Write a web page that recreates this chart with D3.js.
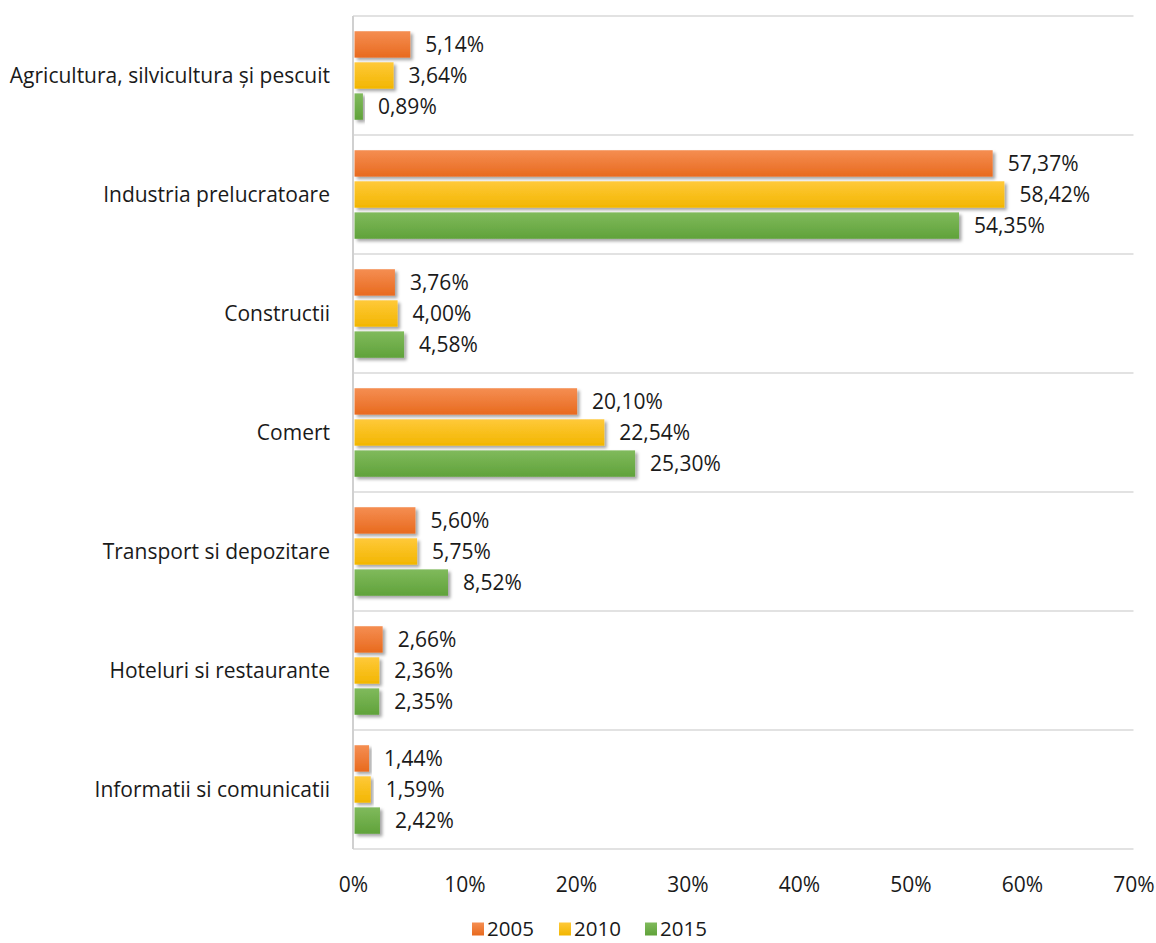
<!DOCTYPE html>
<html>
<head>
<meta charset="utf-8">
<script src="https://cdn.jsdelivr.net/npm/d3@7"></script>
<style>
  html, body { margin: 0; padding: 0; background: #fff; }
  svg text { font-family: "Open Sans", Lato, sans-serif; fill: #1a1a1a; }
</style>
</head>
<body>
<svg id="chart" width="1156" height="943"></svg>
<script>
// Sector shares of value added, by year
const categories = [
  "Agricultura, silvicultura și pescuit",
  "Industria prelucratoare",
  "Constructii",
  "Comert",
  "Transport si depozitare",
  "Hoteluri si restaurante",
  "Informatii si comunicatii"
];
const years = ["2005", "2010", "2015"];
const values2005 = [5.14, 57.37, 3.76, 20.10, 5.60, 2.66, 1.44];
const values2010 = [3.64, 58.42, 4.00, 22.54, 5.75, 2.36, 1.59];
const values2015 = [0.89, 54.35, 4.58, 25.30, 8.52, 2.35, 2.42];
const xTicks = [0, 10, 20, 30, 40, 50, 60, 70];

const seriesValues = [values2005, values2010, values2015];
const colors = {
  "2005": ["#F58E52", "#E86A1E"],
  "2010": ["#FFC93A", "#F2B600"],
  "2015": ["#80BA5C", "#60A23A"]
};

const FONT_SIZE = 21;
const svg = d3.select("#chart");
const plot = { left: 353, right: 1133.5, top: 16, bottom: 849 };

const x = d3.scaleLinear().domain([0, 70]).range([plot.left, plot.right]);
const y = d3.scaleBand().domain(categories).range([plot.top, plot.bottom]).padding(0);
const ySub = d3.scaleBand().domain(years).range([0, y.bandwidth()])
  .paddingInner(0.15).paddingOuter(0.49);

const locale = d3.formatLocale({ decimal: ",", thousands: ".", grouping: [3], currency: ["", ""] });
const fmt = locale.format(".2f");

// Gradients and bar shadow
const defs = svg.append("defs");
years.forEach(yr => {
  const g = defs.append("linearGradient").attr("id", "grad" + yr)
    .attr("x1", 0).attr("y1", 0).attr("x2", 0).attr("y2", 1);
  g.append("stop").attr("offset", "0%").attr("stop-color", colors[yr][0]);
  g.append("stop").attr("offset", "100%").attr("stop-color", colors[yr][1]);
});
const f = defs.append("filter").attr("id", "shadow")
  .attr("x", "-10%").attr("y", "-30%").attr("width", "130%").attr("height", "180%");
f.append("feDropShadow").attr("dx", 2.5).attr("dy", 2.5).attr("stdDeviation", 1.8)
  .attr("flood-color", "#000").attr("flood-opacity", 0.35);

// Horizontal gridlines at category boundaries
const bounds = categories.map(c => y(c)).concat([plot.bottom]);
svg.append("g").selectAll("line").data(bounds).join("line")
  .attr("x1", plot.left).attr("x2", plot.right)
  .attr("y1", d => d).attr("y2", d => d)
  .attr("stroke", "#d9d9d9").attr("stroke-width", 1.5);

// Vertical category axis line
svg.append("line")
  .attr("x1", plot.left).attr("x2", plot.left)
  .attr("y1", plot.top).attr("y2", plot.bottom)
  .attr("stroke", "#d0d0d0").attr("stroke-width", 2);

// Bars
const rows = [];
categories.forEach((c, i) => {
  years.forEach((yr, j) => rows.push({ cat: c, year: yr, value: seriesValues[j][i] }));
});

const barG = svg.append("g");
barG.selectAll("rect").data(rows).join("rect")
  .attr("x", x(0) + 1.5)
  .attr("y", d => y(d.cat) + ySub(d.year))
  .attr("width", d => x(d.value) - x(0) - 1.5)
  .attr("height", ySub.bandwidth())
  .attr("fill", d => `url(#grad${d.year})`)
  .attr("filter", "url(#shadow)");

// Value labels
svg.append("g").selectAll("text").data(rows).join("text")
  .attr("x", d => x(d.value) + 15)
  .attr("y", d => y(d.cat) + ySub(d.year) + ySub.bandwidth() / 2)
  .attr("dy", "0.36em")
  .attr("font-size", FONT_SIZE)
  .text(d => fmt(d.value) + "%");

// Category labels
svg.append("g").selectAll("text").data(categories).join("text")
  .attr("x", plot.left - 23)
  .attr("y", d => y(d) + y.bandwidth() / 2)
  .attr("dy", "0.36em")
  .attr("text-anchor", "end")
  .attr("font-size", FONT_SIZE)
  .text(d => d);

// X axis tick labels
const xAxis = d3.axisBottom(x).tickValues(xTicks).tickFormat(d => d + "%").tickSize(0).tickPadding(0);
const xg = svg.append("g").attr("transform", `translate(0, ${plot.bottom})`).call(xAxis);
xg.select(".domain").remove();
xg.selectAll("text")
  .attr("y", 35).attr("dy", "0.36em")
  .attr("font-size", FONT_SIZE)
  .style("font-family", '"Open Sans", Lato, sans-serif')
  .attr("fill", "#1a1a1a");

// Legend
const legendItems = [
  { year: "2005", x: 472 },
  { year: "2010", x: 559 },
  { year: "2015", x: 645 }
];
const leg = svg.append("g").selectAll("g").data(legendItems).join("g")
  .attr("transform", d => `translate(${d.x}, 929)`);
leg.append("rect").attr("x", 0).attr("y", -6.5).attr("width", 12).attr("height", 13)
  .attr("fill", d => `url(#grad${d.year})`);
leg.append("text").attr("x", 15).attr("dy", "0.36em").attr("font-size", 20.5)
  .text(d => d.year);
</script>
</body>
</html>
